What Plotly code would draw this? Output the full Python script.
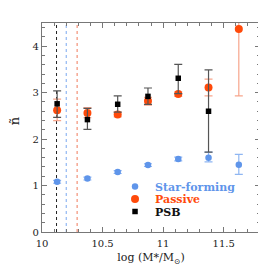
import plotly.graph_objects as go

# Stellar-mass bins (log M*/Msun)
mass_bins = [10.125, 10.375, 10.625, 10.875, 11.125, 11.375, 11.625]

# Star-forming
sf_n = [1.08, 1.15, 1.29, 1.44, 1.57, 1.60, 1.45]
sf_err_plus = [0.03, 0.03, 0.03, 0.03, 0.04, 0.12, 0.22]
sf_err_minus = [0.03, 0.03, 0.03, 0.03, 0.04, 0.09, 0.21]

# Passive
pas_n = [2.62, 2.56, 2.53, 2.82, 2.97, 3.11, 4.37]
pas_err_plus = [0.24, 0.12, 0.05, 0.08, 0.05, 0.18, 1.44]
pas_err_minus = [0.22, 0.10, 0.05, 0.09, 0.05, 0.18, 1.44]

# PSB
psb_x = [10.125, 10.375, 10.625, 10.875, 11.125, 11.375]
psb_n = [2.76, 2.42, 2.75, 2.92, 3.31, 2.60]
psb_err_plus = [0.28, 0.24, 0.18, 0.18, 0.30, 0.89]
psb_err_minus = [0.29, 0.21, 0.17, 0.17, 0.33, 0.88]

# Mass-completeness limits
limit_x = [10.12, 10.20, 10.29]
limit_colors = ["#222222", "#7aa8f0", "#f07a5a"]

BLUE = "#5f95ea"
BLUE_ERR = "#8fb6f2"
RED = "#ff4a0a"
RED_ERR = "#f7a58c"
BLACK = "#000000"
GREY_ERR = "#555555"
SERIF = "DejaVu Serif"

fig = go.Figure()

fig.add_trace(go.Scatter(
    x=mass_bins, y=sf_n, mode="markers",
    name="Star-forming", legend="legend",
    marker=dict(color=BLUE, size=6.5, symbol="circle"),
    error_y=dict(type="data", array=sf_err_plus, arrayminus=sf_err_minus,
                 color=BLUE_ERR, thickness=1.2, width=4),
))
fig.add_trace(go.Scatter(
    x=mass_bins, y=pas_n, mode="markers",
    name="Passive", legend="legend2",
    marker=dict(color=RED, size=8, symbol="circle"),
    error_y=dict(type="data", array=pas_err_plus, arrayminus=pas_err_minus,
                 color=RED_ERR, thickness=1.2, width=4),
))
fig.add_trace(go.Scatter(
    x=psb_x, y=psb_n, mode="markers",
    name="PSB", legend="legend3",
    marker=dict(color=BLACK, size=5.5, symbol="square"),
    error_y=dict(type="data", array=psb_err_plus, arrayminus=psb_err_minus,
                 color=GREY_ERR, thickness=1.2, width=4),
))

for xv, col in zip(limit_x, limit_colors):
    fig.add_shape(type="line", xref="x", yref="paper", x0=xv, x1=xv, y0=0, y1=1,
                  line=dict(color=col, width=1, dash="3px,3px"), layer="below")

axis_common = dict(
    showline=True, linecolor="#777777", linewidth=1.2, mirror="ticks",
    ticks="inside", ticklen=5, tickwidth=1, tickcolor="#777777",
    showgrid=False, zeroline=False,
    tickfont=dict(family=SERIF, size=10, color="#222222"),
)

fig.update_xaxes(
    range=[10, 11.8], tickvals=[10, 10.5, 11, 11.5],
    ticktext=["10", "10.5", "11", "11.5"],
    minor=dict(ticks="inside", ticklen=3, dtick=0.1, tick0=10, tickcolor="#777777"),
    ticklabelstandoff=2,
    title=dict(text="log (M*/M<sub>⊙</sub>)", font=dict(family=SERIF, size=11, color="#222222"), standoff=5),
    **axis_common,
)
fig.update_yaxes(
    range=[0, 4.5], tickvals=[0, 1, 2, 3, 4], ticktext=["0", "1", "2", "3", "4"],
    minor=dict(ticks="inside", ticklen=3, dtick=0.2, tick0=0, tickcolor="#777777"),
    **axis_common,
)

fig.add_annotation(
    text="ñ", textangle=-90, xref="paper", yref="paper",
    x=-0.125, y=0.534, xanchor="center", yanchor="middle", showarrow=False,
    font=dict(family=SERIF, size=13, color="#222222"),
)

leg_common = dict(x=0.335, xanchor="left", yanchor="top", bgcolor="rgba(0,0,0,0)", itemwidth=30)
fig.update_layout(
    width=266, height=266,
    margin=dict(l=34, r=14, t=15, b=34),
    paper_bgcolor="white", plot_bgcolor="white",
    showlegend=True,
    legend=dict(y=0.287, font=dict(family=SERIF, size=11, color=BLUE, weight="bold"), **leg_common),
    legend2=dict(y=0.227, font=dict(family=SERIF, size=11, color=RED, weight="bold"), **leg_common),
    legend3=dict(y=0.1675, font=dict(family=SERIF, size=11, color="#111111", weight="bold"), **leg_common),
)

fig.write_html("out.html")
